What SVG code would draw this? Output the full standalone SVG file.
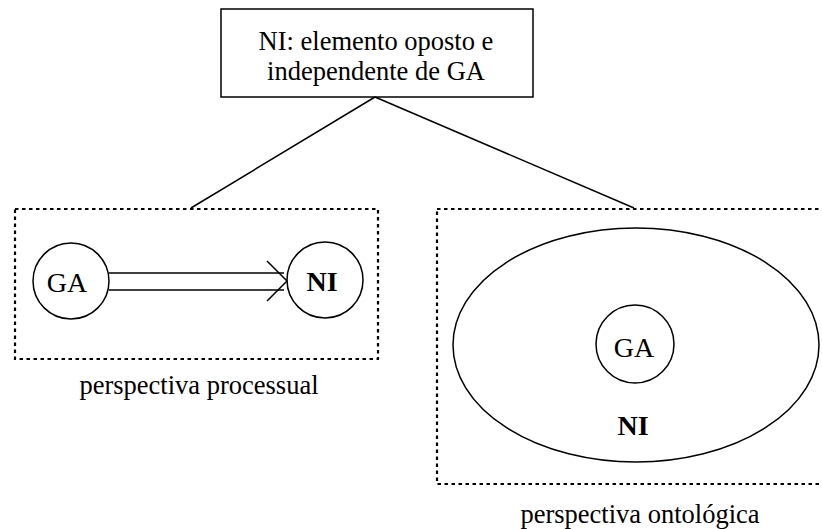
<svg xmlns="http://www.w3.org/2000/svg" width="822" height="529" viewBox="0 0 822 529">
<style>
.t{font-family:"Liberation Serif","Times New Roman",serif;fill:#000;text-anchor:middle}
.s{fill:none;stroke:#000;stroke-width:1.5}
.d{fill:none;stroke:#000;stroke-width:2.2;stroke-dasharray:3.5,3.5}
</style>
<rect width="822" height="529" fill="#fff"/>
<g id="connectors">
<line class="s" x1="375" y1="97" x2="191" y2="208"/>
<line class="s" x1="375" y1="97" x2="634" y2="208"/>
</g>
<g id="top">
<rect class="s" x="221" y="9" width="312" height="88"/>
<text class="t" x="376" y="50" font-size="26.5">NI: elemento oposto e</text>
<text class="t" x="376" y="80" font-size="26.5">independente de GA</text>
</g>
<g id="processual">
<rect class="d" x="15" y="209" width="363" height="150"/>
<circle class="s" cx="71" cy="281" r="38"/>
<text class="t" x="67" y="292" font-size="28">GA</text>
<circle class="s" cx="325" cy="280" r="38"/>
<text class="t" x="322" y="291" font-size="28" font-weight="bold">NI</text>
<line class="s" x1="109" y1="273" x2="284" y2="273"/>
<line class="s" x1="109" y1="290" x2="284" y2="290"/>
<polyline class="s" points="267,261 287,281 267,301"/>
<text class="t" x="199" y="394" font-size="26.5">perspectiva processual</text>
</g>
<g id="ontologica">
<rect class="d" x="437" y="209" width="400" height="275"/>
<ellipse class="s" cx="636" cy="345" rx="183" ry="117"/>
<circle class="s" cx="635" cy="344" r="39"/>
<text class="t" x="634" y="357" font-size="28">GA</text>
<text class="t" x="633" y="435" font-size="28" font-weight="bold">NI</text>
<text class="t" x="640" y="523" font-size="26.5">perspectiva ontológica</text>
</g>
</svg>
